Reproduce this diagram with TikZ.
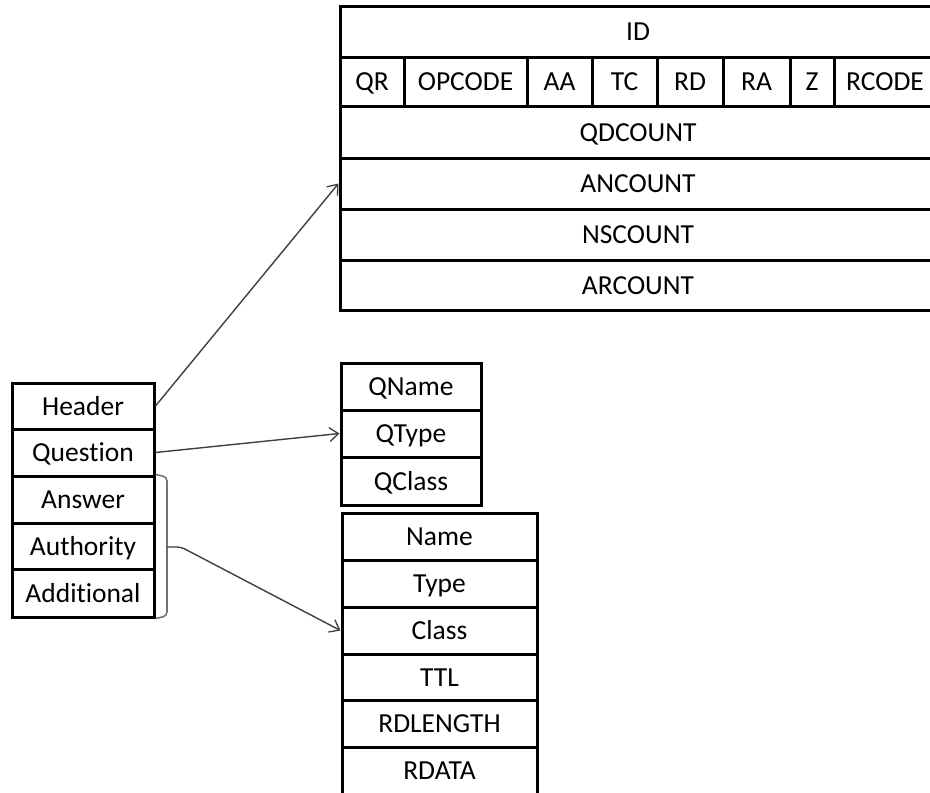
\documentclass[tikz,border=0pt]{standalone}
\usepackage{fontspec}
\setmainfont{Carlito}[Ligatures=NoCommon]
\usetikzlibrary{arrows.meta}
\newcommand\mycell[6]{\node[cell,minimum width={(#3-#2)*1pt},minimum height={(#5-#4)*1pt}] (#1) at ({(#2+#3)/2},{(#4+#5)/2}) {#6};}
\begin{document}
\begin{tikzpicture}[x=1pt,y=-1pt,
  cell/.style={draw=black, line width=3pt, inner sep=0pt, text height=18pt, text depth=0pt,
    font=\fontsize{27.5}{30}\selectfont, text=black},
  conn/.style={draw=black!75, line width=1.4pt, rounded corners=4pt,
    -{Straight Barb[length=9pt,width=14pt,line width=1.3pt]}},
  brk/.style={draw=black!55, line width=1.6pt, rounded corners=4pt},
]
\useasboundingbox (0,0) rectangle (930,793);
\fill[white] (0,0) rectangle (930,793);
% header table
\mycell{id}{340}{936}{6}{57}{ID}
\mycell{qr}{340}{404}{57}{106}{QR}
\mycell{opcode}{404}{527}{57}{106}{OPCODE}
\mycell{aa}{527}{592}{57}{106}{AA}
\mycell{tc}{592}{657}{57}{106}{TC}
\mycell{rd}{657}{723}{57}{106}{RD}
\mycell{ra}{723}{790}{57}{106}{RA}
\mycell{z}{790}{834}{57}{106}{Z}
\mycell{rcode}{834}{936}{57}{106}{RCODE}
\mycell{qdcount}{340}{936}{106}{158}{QDCOUNT}
\mycell{ancount}{340}{936}{158}{209}{ANCOUNT}
\mycell{nscount}{340}{936}{209}{260}{NSCOUNT}
\mycell{arcount}{340}{936}{260}{310}{ARCOUNT}
% message sections
\mycell{hdr}{12}{154}{383}{429}{Header}
\mycell{question}{12}{154}{429}{476}{Question}
\mycell{answer}{12}{154}{476}{523}{Answer}
\mycell{authority}{12}{154}{523}{569}{Authority}
\mycell{additional}{12}{154}{569}{617}{Additional}
% question table
\mycell{qname}{341}{481}{363}{410}{QName}
\mycell{qtype}{341}{481}{410}{457}{QType}
\mycell{qclass}{341}{481}{457}{505}{QClass}
% resource record table
\mycell{rname}{342}{537}{513}{560}{Name}
\mycell{rtype}{342}{537}{560}{607}{Type}
\mycell{rclass}{342}{537}{607}{654}{Class}
\mycell{ttl}{342}{537}{654}{700}{TTL}
\mycell{rdlength}{342}{537}{700}{747}{RDLENGTH}
\mycell{rdata}{342}{537}{747}{794}{RDATA}
% connectors
\draw[conn] (hdr.east) -- (ancount.west);
\draw[conn] (question.east) -- (qtype.west);
\draw[brk] (answer.north east) -- (167,477) -- (167,616) -- (additional.south east);
\coordinate (bmid) at (167,547);
\draw[conn] (bmid) -- (181,547) -- (rclass.west);
\end{tikzpicture}
\end{document}
